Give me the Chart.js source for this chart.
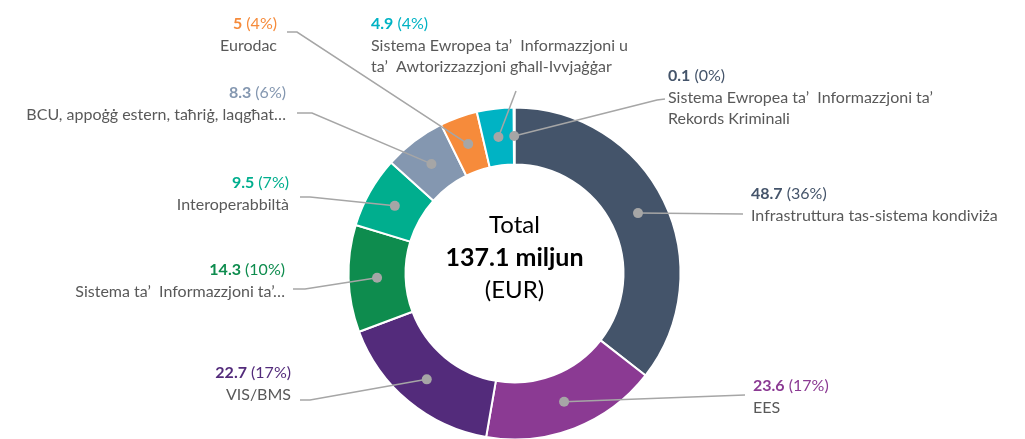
<!DOCTYPE html>
<html lang="mt">
<head>
    <meta charset="UTF-8">
    <title>Total 137.1 miljun (EUR)</title>
    <style>
        html, body { margin: 0; padding: 0; background: #fff; }
        .chart-container { width: 1025px; height: 439px; position: relative; }
    </style>
</head>
<body>
<div class="chart-container">
    <canvas id="budgetChart"></canvas>
</div>

<script src="https://cdn.jsdelivr.net/npm/chart.js"></script>
<script>
    // Data (million EUR), clockwise from 12 o'clock
    const categories = [
        ['Infrastruttura tas-sistema kondiviża'],
        ['EES'],
        ['VIS/BMS'],
        ['Sistema ta’  Informazzjoni ta’…'],
        ['Interoperabbiltà'],
        ['BCU, appoġġ estern, taħriġ, laqgħat…'],
        ['Eurodac'],
        ['Sistema Ewropea ta’  Informazzjoni u', 'ta’  Awtorizzazzjoni għall-Ivvjaġġar'],
        ['Sistema Ewropea ta’  Informazzjoni ta’', 'Rekords Kriminali']
    ];
    const amounts = [48.7, 23.6, 22.7, 14.3, 9.5, 8.3, 5, 4.9, 0.1];
    const sliceColors = ['#44546a', '#8b3a93', '#532b7b', '#0e8c4e', '#00ae8e',
                         '#8497b0', '#f68b3b', '#00b3c4', '#44546a'];
    const centerLines = ['Total', '137.1 miljun', '(EUR)'];

    // where each callout sits (text anchor + leader line bends)
    const calloutLayout = [
        { x: 751, y: 199, align: 'left',  bends: [[743, 214]] },
        { x: 753, y: 391, align: 'left',  bends: [[745, 395]] },
        { x: 291, y: 378, align: 'right', bends: [[310, 400], [300, 400]] },
        { x: 285, y: 275, align: 'right', bends: [[305, 289], [293, 289]] },
        { x: 289, y: 188, align: 'right', bends: [[310, 197], [300, 197]] },
        { x: 286, y: 98,  align: 'right', bends: [[312, 113], [297, 113]] },
        { x: 277, y: 29,  align: 'right', bends: [[297, 32], [287, 32]] },
        { x: 371, y: 29,  align: 'left',  bends: [[516, 91]] },
        { x: 668, y: 81,  align: 'left',  bends: [[657, 100], [665, 99]] }
    ];

    const FONT = 'Lato, "Open Sans", sans-serif';
    const total = amounts.reduce((a, b) => a + b, 0);

    const calloutPlugin = {
        id: 'callouts',
        afterDatasetsDraw(chart) {
            const ctx = chart.ctx;
            const arcs = chart.getDatasetMeta(0).data;
            ctx.save();

            arcs.forEach((arc, i) => {
                const p = arc.tooltipPosition();
                const lay = calloutLayout[i];

                // leader line
                ctx.strokeStyle = '#a6a6a6';
                ctx.lineWidth = 1.5;
                ctx.beginPath();
                ctx.moveTo(p.x, p.y);
                lay.bends.forEach(b => ctx.lineTo(b[0], b[1]));
                ctx.stroke();

                // dot
                ctx.fillStyle = '#a6a6a6';
                ctx.beginPath();
                ctx.arc(p.x, p.y, 5, 0, Math.PI * 2);
                ctx.fill();

                // value + percent
                const valTxt = String(amounts[i]);
                const pctTxt = ' (' + Math.round(amounts[i] / total * 100) + '%)';
                ctx.textBaseline = 'alphabetic';
                ctx.font = 'bold 16px ' + FONT;
                const wVal = ctx.measureText(valTxt).width;
                ctx.font = '16px ' + FONT;
                const wPct = ctx.measureText(pctTxt).width;
                let x0 = lay.align === 'left' ? lay.x : lay.x - wVal - wPct;
                ctx.textAlign = 'left';
                ctx.fillStyle = sliceColors[i];
                ctx.font = 'bold 16px ' + FONT;
                ctx.fillText(valTxt, x0, lay.y);
                ctx.font = '16px ' + FONT;
                ctx.fillText(pctTxt, x0 + wVal, lay.y);

                // name lines
                ctx.fillStyle = '#595959';
                ctx.textAlign = lay.align;
                categories[i].forEach((line, k) => {
                    ctx.fillText(line, lay.x, lay.y + 21.5 * (k + 1));
                });
            });

            // centre text
            const c = arcs[0];
            ctx.textAlign = 'center';
            ctx.fillStyle = '#000';
            ctx.font = '24px ' + FONT;
            ctx.fillText(centerLines[0], c.x, 233);
            ctx.font = 'bold 25px ' + FONT;
            ctx.fillText(centerLines[1], c.x, 266);
            ctx.font = '24px ' + FONT;
            ctx.fillText(centerLines[2], c.x, 298);

            ctx.restore();
        }
    };

    const ctx = document.getElementById('budgetChart').getContext('2d');
    const budgetChart = new Chart(ctx, {
        type: 'doughnut',
        data: {
            labels: categories.map(c => c.join(' ')),
            datasets: [{
                data: amounts,
                backgroundColor: sliceColors,
                borderColor: '#ffffff',
                borderWidth: 2,
                hoverOffset: 0
            }]
        },
        options: {
            responsive: true,
            maintainAspectRatio: false,
            animation: false,
            radius: 166,
            cutout: 108,
            layout: { padding: { left: 4, right: 0, top: 108, bottom: 0 } },
            plugins: {
                legend: { display: false },
                tooltip: { enabled: false }
            }
        },
        plugins: [calloutPlugin]
    });
</script>
</body>
</html>
